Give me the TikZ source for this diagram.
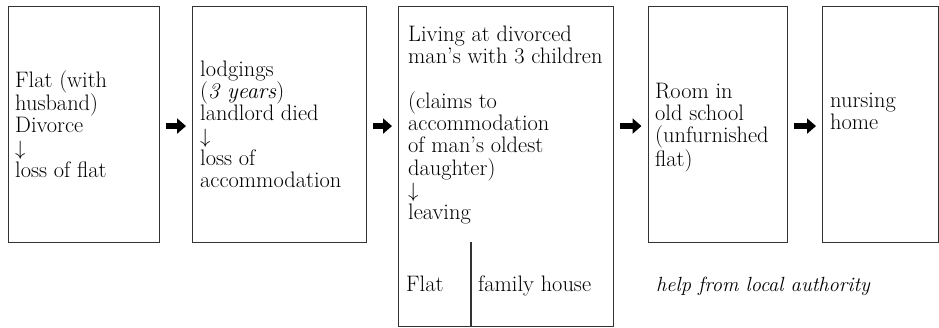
\documentclass[tikz,border=0pt]{standalone}
\usepackage{fontspec}
\usetikzlibrary{arrows.meta}
\begin{document}
\begin{tikzpicture}[x=1bp,y=-1bp,
  box/.style={draw=black!80, line width=1.1bp, rectangle, inner sep=0pt, anchor=north west},
  txt/.style={inner sep=0pt, anchor=north west, align=left, font=\fontsize{22.4bp}{22.3bp}\selectfont},
  word/.style={inner sep=0pt, anchor=base west, font=\fontsize{22.4bp}{22.3bp}\selectfont},
  conn/.style={line width=6.5bp, -{Triangle[length=9bp,width=15bp]}, shorten <=6bp, shorten >=6bp},
  divider/.style={draw=black!80, line width=1.1bp}]
\useasboundingbox (0,0) rectangle (939,327);
\newcommand{\firstline}{\rule{0pt}{17.5bp}}
\newcommand{\thenarrow}{{\fontsize{19bp}{19bp}\selectfont$\downarrow$}}

% housing stages
\node[box, minimum width=151.5bp, minimum height=236bp] (b1) at (7.5,5.5) {};
\node[box, minimum width=174bp, minimum height=236bp] (b2) at (192,5.5) {};
\node[box, minimum width=215bp, minimum height=320.8bp] (b3) at (398,5.5) {};
\node[box, minimum width=139.5bp, minimum height=236bp] (b4) at (647.5,5.5) {};
\node[box, minimum width=116bp, minimum height=236bp] (b5) at (822,5.5) {};

% texts of the stages
\node[txt] (t1) at (15,69.5) {\firstline Flat (with\\ husband)\\ Divorce\\ \thenarrow\\ loss of flat};
\node[txt] (t2) at (200,58.5) {\firstline lodgings\\ (\textit{3 years})\\ landlord died\\ \thenarrow\\ loss of\\ accommodation};
\node[txt] (t3) at (408,23.5) {\firstline Living at divorced\\ man’s with 3 children\\[22.3bp] (claims to\\ accommodation\\ of man’s oldest\\ daughter)\\ \thenarrow\\ leaving};
\node[txt] (t4) at (655,80.5) {\firstline Room in\\ old school\\ (unfurnished\\ flat)};
\node[txt] (t5) at (830,89.5) {\firstline nursing\\ home};

% split of the third stage
\coordinate (dtop) at (471,242);
\draw[divider] (dtop) -- (dtop |- b3.south);
\node[word] (flat) at (406,291) {Flat};
\node[word] (house) at (478,291) {family house};
\node[word, font=\fontsize{20.5bp}{22.3bp}\selectfont\itshape] (help) at (656,291) {help from local authority};

% transitions
\draw[conn] ([yshift=-2bp]b1.east) -- ([yshift=-2bp]b2.west);
\draw[conn] ([yshift=-2bp]b2.east) -- ([yshift=-2bp]b2.east -| b3.west);
\draw[conn] ([yshift=-2bp]b4.west -| b3.east) -- ([yshift=-2bp]b4.west);
\draw[conn] ([yshift=-2bp]b4.east) -- ([yshift=-2bp]b5.west);
\end{tikzpicture}
\end{document}
